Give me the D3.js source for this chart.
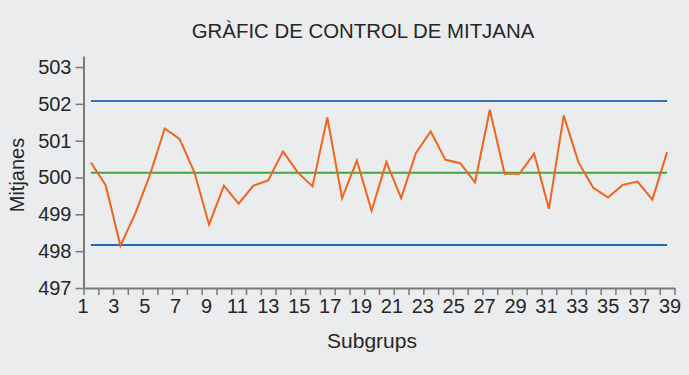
<!DOCTYPE html>
<html>
<head>
<meta charset="utf-8">
<script src="https://cdn.jsdelivr.net/npm/d3@7"></script>
<style>
  html, body { margin: 0; padding: 0; background: #ebecee; }
  svg { display: block; font-family: "Liberation Sans", Arial, sans-serif; }
</style>
</head>
<body>
<div id="chart"></div>
<script>
// Subgroup means (40 subgroups)
const subgroups = d3.range(1, 41)
const means = [
  500.41, 499.79, 498.15, 499.02, 500.08, 501.33, 501.05, 500.15, 498.72, 499.78,
  499.29, 499.78, 499.92, 500.71, 500.14, 499.76, 501.63, 499.44, 500.46, 499.10,
  500.42, 499.44, 500.67, 501.25, 500.48, 500.39, 499.87, 501.84, 500.10, 500.10,
  500.65, 499.15, 501.68, 500.41, 499.72, 499.46, 499.80, 499.89, 499.40, 500.69
]
const ucl = 502.08
const centerLine = 500.13
const lcl = 498.17

const yTicks = [497, 498, 499, 500, 501, 502, 503]
const xLabels = d3.range(1, 40, 2)   // 1, 3, ..., 39

const width = 689
const height = 375
const textColor = '#262626'

const svg = d3.select('#chart')
  .append('svg')
  .attr('width', width)
  .attr('height', height)

svg.append('rect')
  .attr('width', width)
  .attr('height', height)
  .attr('fill', '#ebecee')

// Scales
const x = d3.scaleLinear().domain([0, 40]).range([83.5, 674.5])
const xLabel = d3.scaleLinear().domain([1, 39]).range([83, 670])
const y = d3.scaleLinear().domain([497, 503.3]).range([288, 56])

// Control limits
const limits = [
  { value: ucl, color: '#3b71bc' },
  { value: centerLine, color: '#3fa83a' },
  { value: lcl, color: '#1f6cb4' }
]
svg.selectAll('line.limit')
  .data(limits)
  .enter().append('line')
  .attr('class', 'limit')
  .attr('x1', x(0.5))
  .attr('x2', x(39.5))
  .attr('y1', d => y(d.value))
  .attr('y2', d => y(d.value))
  .attr('stroke', d => d.color)
  .attr('stroke-width', 2)

// Means line
const line = d3.line()
  .x((d, i) => x(subgroups[i] - 0.5))
  .y(d => y(d))

svg.append('path')
  .datum(means)
  .attr('d', line)
  .attr('fill', 'none')
  .attr('stroke', '#f0641c')
  .attr('stroke-width', 2)
  .attr('stroke-linejoin', 'miter')

// Y axis
const yAxis = svg.append('g')
  .attr('transform', `translate(${x(0)},0)`)
  .call(d3.axisLeft(y).tickValues(yTicks).tickSize(8).tickSizeOuter(0).tickPadding(4).tickFormat(d3.format('d')))
yAxis.select('.domain').attr('stroke', '#7a7a7a').attr('stroke-width', 2)
yAxis.selectAll('.tick line').attr('stroke', '#7a7a7a').attr('stroke-width', 1.5)
yAxis.selectAll('.tick text')
  .attr('fill', textColor)
  .attr('font-size', '20px')
  .attr('font-family', '"Liberation Sans", Arial, sans-serif')

// X axis: tick marks between subgroups
const xAxis = svg.append('g')
  .attr('transform', `translate(0,${y(497)})`)
  .call(d3.axisBottom(x).tickValues(d3.range(0, 41)).tickSize(7).tickSizeOuter(0).tickFormat(''))
xAxis.select('.domain').attr('stroke', '#7a7a7a').attr('stroke-width', 2)
xAxis.selectAll('.tick line').attr('stroke', '#7a7a7a').attr('stroke-width', 1.5)

// X labels (every other subgroup)
svg.append('g')
  .selectAll('text')
  .data(xLabels)
  .enter().append('text')
  .attr('x', d => xLabel(d))
  .attr('y', 313)
  .attr('text-anchor', 'middle')
  .attr('fill', textColor)
  .attr('font-size', '20px')
  .text(d => d)

// Titles
svg.append('text')
  .attr('x', 363)
  .attr('y', 38)
  .attr('text-anchor', 'middle')
  .attr('fill', textColor)
  .attr('font-size', '20.4px')
  .text('GRÀFIC DE CONTROL DE MITJANA')

svg.append('text')
  .attr('x', 372)
  .attr('y', 348)
  .attr('text-anchor', 'middle')
  .attr('fill', textColor)
  .attr('font-size', '21px')
  .text('Subgrups')

svg.append('text')
  .attr('transform', 'translate(24,175) rotate(-90)')
  .attr('text-anchor', 'middle')
  .attr('fill', textColor)
  .attr('font-size', '20px')
  .text('Mitjanes')
</script>
</body>
</html>
